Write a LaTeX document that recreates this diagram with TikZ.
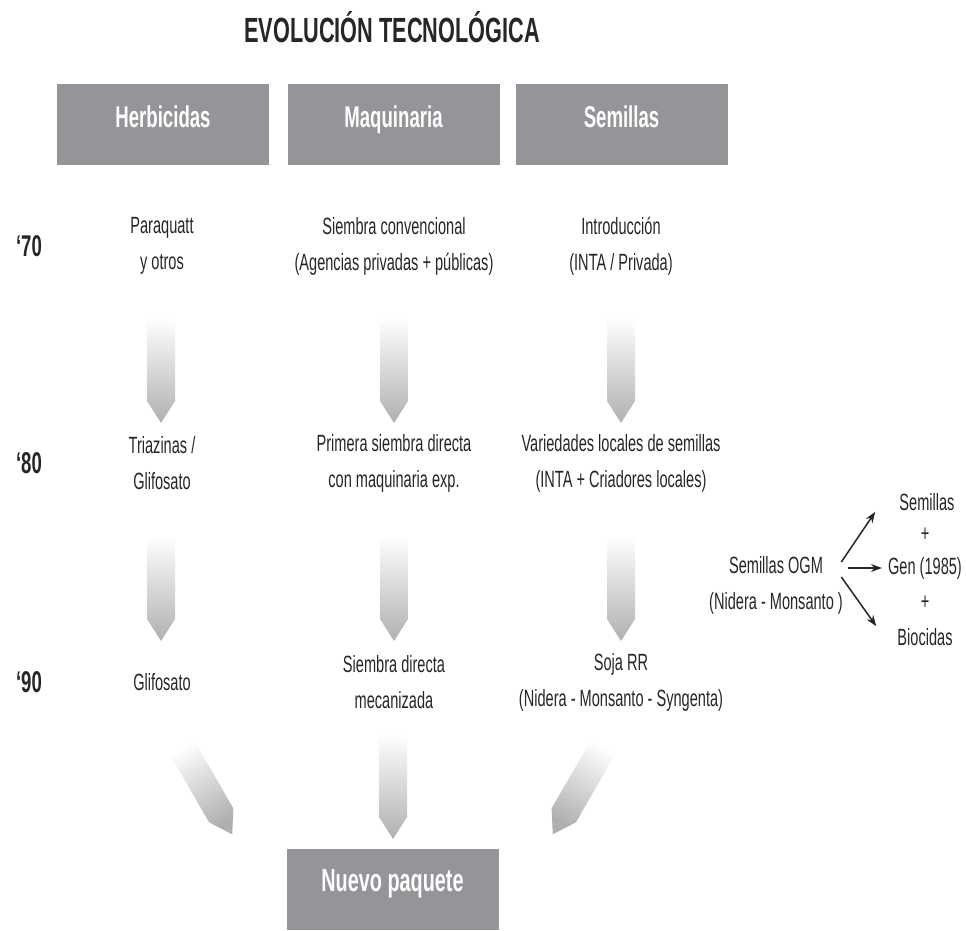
\documentclass[tikz,border=0pt]{standalone}
\usepackage{fontspec}
\setmainfont{Liberation Sans}[FakeStretch=0.62]
\usetikzlibrary{shapes.arrows,arrows.meta}
\definecolor{boxgray}{HTML}{939598}
\definecolor{txtgray}{HTML}{262626}

\begin{document}
\begin{tikzpicture}[x=1pt,y=1pt,
    head/.style={fill=boxgray,text=white,font=\bfseries\fontsize{30}{36}\selectfont,
      minimum width=212,minimum height=81,inner sep=0,text height=0.72em,text depth=0.2em},
    year/.style={font=\bfseries\fontsize{30}{34}\selectfont,text=txtgray},
    item/.style={font=\fontsize{23.5}{36}\selectfont,align=center,text=txtgray},
    fade/.style={single arrow,single arrow head extend=0pt,single arrow tip angle=65,
      minimum width=28,minimum height=105,inner sep=0,shading=axis,
      top color=white,bottom color=gray!62},
    side/.style={-{Stealth[length=11,width=8]},line width=1.5,txtgray}]

    \useasboundingbox (0,0) rectangle (966,930);

    \node[font=\bfseries\fontsize{35}{40}\selectfont,text=txtgray] (title) at (392,903) {EVOLUCIÓN TECNOLÓGICA};

    % column heads
    \begin{scope}[every node/.style={head}]
      \node (herb) at (163,805.5)   {Herbicidas};
      \node (maq)  at (393.5,805.5) {Maquinaria};
      \node (sem)  at (621.5,805.5) {Semillas};
      \node[font=\bfseries\fontsize{32}{38}\selectfont] (nuevo) at (392.5,41) {Nuevo paquete};
    \end{scope}

    % decades
    \begin{scope}[every node/.style={year}]
      \node (y70) at (29,684) {‘70};
      \node (y80) at (29,467) {‘80};
      \node (y90) at (29,248) {‘90};
    \end{scope}

    \begin{scope}[every node/.style={item}]
      \node (h70) at (162,684)   {Paraquatt\\y otros};
      \node (m70) at (394,684)   {Siembra convencional\\(Agencias privadas + públicas)};
      \node (s70) at (621,684)   {Introducción\\(INTA / Privada)};
      \node (h80) at (162,466.5) {Triazinas /\\Glifosato};
      \node (m80) at (394,466.5) {Primera siembra directa\\con maquinaria exp.};
      \node (s80) at (621,466.5) {Variedades locales de semillas\\(INTA + Criadores locales)};
      \node (h90) at (162,248)   {Glifosato};
      \node (m90) at (394,247.5) {Siembra directa\\mecanizada};
      \node (s90) at (621,247.5) {Soja RR\\(Nidera - Monsanto - Syngenta)};

      \node (ogm)  at (776,344.5) {Semillas OGM\\(Nidera - Monsanto )};
      \node[inner sep=0] (osem) at (927,428) {Semillas};
      \node[inner sep=0] (op1)  at (925,395) {+};
      \node[inner sep=0] (ogen) at (925,362) {Gen (1985)};
      \node[inner sep=0] (op2)  at (925,327) {+};
      \node[inner sep=0] (obio) at (925,293) {Biocidas};
    \end{scope}

    % fading arrows
    \begin{scope}[every node/.style={fade}]
      \node[rotate=-90] (a1) at (161,570.5) {};
      \node[rotate=-90] (a2) at (394,570.5) {};
      \node[rotate=-90] (a3) at (621,570.5) {};
      \node[rotate=-90] (a4) at (161,352.5) {};
      \node[rotate=-90] (a5) at (394,352.5) {};
      \node[rotate=-90] (a6) at (621,352.5) {};
      \node[rotate=-60,shading angle=30]   (a7) at (200.5,150.6) {};
      \node[rotate=-90]                    (a8) at (393,154.5) {};
      \node[rotate=-120,shading angle=-30] (a9) at (584.5,150.6) {};
    \end{scope}

    \coordinate (fork) at ([xshift=2,yshift=17.5]ogm.east);
    \begin{scope}[every path/.style={side}]
      \path ([xshift=-7,yshift=6]fork) edge ([xshift=-24,yshift=-1]osem.south west);
      \path (fork) edge ([xshift=-6]ogen.west);
      \path ([xshift=-7,yshift=-9]fork) edge ([xshift=-21,yshift=2]obio.north west);
    \end{scope}

\end{tikzpicture}
\end{document}
